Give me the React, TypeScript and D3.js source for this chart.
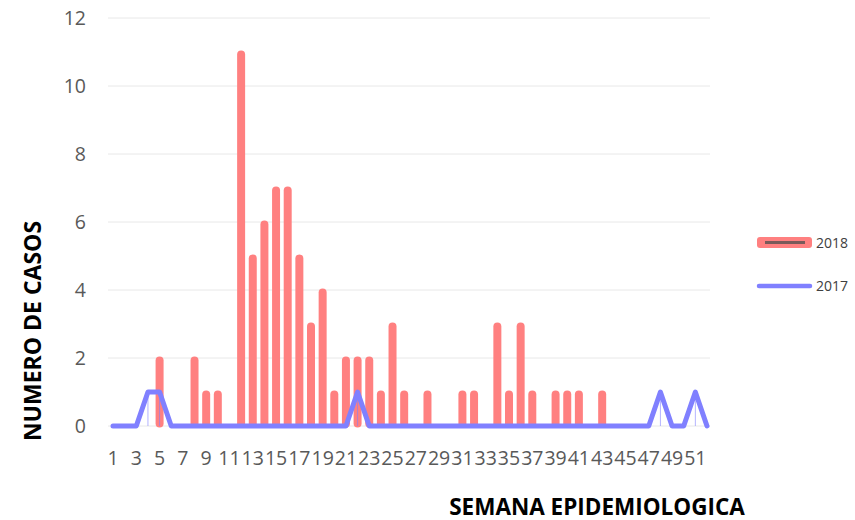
import React from "react";
import * as d3 from "d3";

const weeks: number[] = Array.from({ length: 52 }, (_, i) => i + 1);
const cases2018: number[] = [
  0, 0, 0, 0, 2, 0, 0, 2, 1, 1,
  0, 11, 5, 6, 7, 7, 5, 3, 4, 1,
  2, 2, 2, 1, 3, 1, 0, 1, 0, 0,
  1, 1, 0, 3, 1, 3, 1, 0, 1, 1,
  1, 0, 1, 0, 0, 0, 0, 0, 0, 0,
  0, 0,
];
const cases2017: number[] = [
  0, 0, 0, 1, 1, 0, 0, 0, 0, 0,
  0, 0, 0, 0, 0, 0, 0, 0, 0, 0,
  0, 1, 0, 0, 0, 0, 0, 0, 0, 0,
  0, 0, 0, 0, 0, 0, 0, 0, 0, 0,
  0, 0, 0, 0, 0, 0, 0, 1, 0, 0,
  1, 0,
];
const yTicks: number[] = [0, 2, 4, 6, 8, 10, 12];
const seriesNames: string[] = ["2018", "2017"];

const W = 855;
const H = 520;
const FONT = "'Open Sans', 'Noto Sans', sans-serif";
const RED = "#FF8080";
const BLUE = "#8080FF";

export default function App() {
  const x = d3.scalePoint<number>().domain(weeks).range([113, 707]);
  const y = d3.scaleLinear().domain([0, 12]).range([426, 18]);
  const line = d3
    .line<number>()
    .x((_, i) => x(weeks[i]) as number)
    .y((d) => y(d));
  const xLabels = weeks.filter((w) => w % 2 === 1);

  return (
    <svg
      width={W}
      height={H}
      style={{ position: "absolute", left: 0, top: 0, background: "#fff" }}
    >
      {yTicks.map((t) => (
        <g key={t}>
          <line
            x1={108}
            x2={710}
            y1={y(t)}
            y2={y(t)}
            stroke="#e8e8e8"
            strokeWidth={1}
          />
          <text
            x={86}
            y={y(t)}
            dy="0.36em"
            textAnchor="end"
            fontFamily={FONT}
            fontSize={19.5}
            fill="#595959"
          >
            {t}
          </text>
        </g>
      ))}
      {xLabels.map((w) => (
        <text
          key={w}
          x={x(w) as number}
          y={465}
          textAnchor="middle"
          fontFamily={FONT}
          fontSize={19.5}
          fill="#595959"
        >
          {w}
        </text>
      ))}
      {cases2018.map((v, i) =>
        v > 0 ? (
          <rect
            key={i}
            x={(x(weeks[i]) as number) - 4}
            y={y(v) - 1.5}
            width={8}
            height={y(0) - y(v) + 3}
            rx={4}
            fill={RED}
          />
        ) : null
      )}
      {cases2017.map((v, i) =>
        v > 0 ? (
          <line
            key={i}
            x1={x(weeks[i]) as number}
            x2={x(weeks[i]) as number}
            y1={y(v)}
            y2={y(0)}
            stroke={BLUE}
            strokeOpacity={0.6}
            strokeWidth={1}
          />
        ) : null
      )}
      <path
        d={line(cases2017) || ""}
        fill="none"
        stroke={BLUE}
        strokeWidth={5}
        strokeLinejoin="round"
        strokeLinecap="round"
      />
      {/* legend */}
      <rect x={757} y={237} width={55} height={11} rx={3} fill={RED} />
      <line x1={765} x2={805} y1={242.5} y2={242.5} stroke="#7a5a5a" strokeWidth={3} />
      <text x={816} y={243} dy="0.36em" fontFamily={FONT} fontSize={14} fill="#404040">
        {seriesNames[0]}
      </text>
      <line
        x1={759}
        x2={810}
        y1={286}
        y2={286}
        stroke={BLUE}
        strokeWidth={4.5}
        strokeLinecap="round"
      />
      <text x={816} y={286} dy="0.36em" fontFamily={FONT} fontSize={14} fill="#404040">
        {seriesNames[1]}
      </text>
      <text
        transform="translate(33,331) rotate(-90)"
        textAnchor="middle"
        dy="0.36em"
        fontFamily={FONT}
        fontSize={23}
        fontWeight="bold"
        fill="#000"
      >
        NUMERO DE CASOS
      </text>
      <text
        x={597}
        y={515}
        textAnchor="middle"
        fontFamily={FONT}
        fontSize={22.5}
        fontWeight="bold"
        fill="#000"
      >
        SEMANA EPIDEMIOLOGICA
      </text>
    </svg>
  );
}
